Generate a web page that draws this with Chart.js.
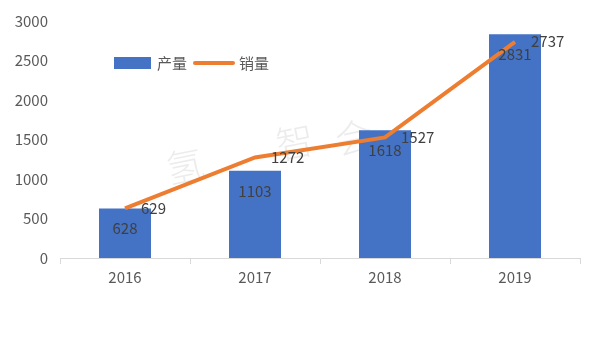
<!DOCTYPE html>
<html>
<head>
<meta charset="utf-8">
<script src="https://cdn.jsdelivr.net/npm/chart.js@4/dist/chart.umd.min.js"></script>
<style>
  html, body { margin: 0; padding: 0; background: #fff; }
  #wrap { width: 600px; height: 345px; }
</style>
</head>
<body>
<div id="wrap"><canvas id="salesChart"></canvas></div>
<script>
const years = ['2016', '2017', '2018', '2019'];
const production = [628, 1103, 1618, 2831];
const sales = [629, 1272, 1527, 2737];
const yTicks = [0, 500, 1000, 1500, 2000, 2500, 3000];

const FONT = '"Noto Sans CJK SC", "Microsoft YaHei", sans-serif';

// faint watermark behind the plot
const watermark = {
    id: 'watermark',
    beforeDatasetsDraw(chart) {
        const ctx = chart.ctx;
        ctx.save();
        ctx.fillStyle = 'rgba(170, 170, 170, 0.22)';
        ctx.font = '300 38px ' + FONT;
        ctx.textBaseline = 'middle';
        ctx.textAlign = 'center';
        const chars = [['氢', 185, 166], ['智', 295, 142], ['会', 354, 137]];
        chars.forEach(([c, x, y]) => {
            ctx.save();
            ctx.translate(x, y);
            ctx.rotate(-0.2);
            ctx.fillText(c, 0, 0);
            ctx.restore();
        });
        ctx.restore();
    }
};

// legend drawn inside the plot area
const innerLegend = {
    id: 'innerLegend',
    afterDraw(chart) {
        const ctx = chart.ctx;
        const ds = chart.data.datasets;
        const barDs = ds.find(d => d.type === 'bar');
        const lineDs = ds.find(d => d.type === 'line');
        ctx.save();
        ctx.font = '15px ' + FONT;
        ctx.textBaseline = 'middle';
        const y = 63;
        ctx.fillStyle = barDs.backgroundColor;
        ctx.fillRect(114, 57, 37, 12);
        ctx.fillStyle = '#595959';
        ctx.fillText(barDs.label, 157, y);
        ctx.strokeStyle = lineDs.borderColor;
        ctx.lineWidth = 4;
        ctx.lineCap = 'round';
        ctx.beginPath();
        ctx.moveTo(195, y);
        ctx.lineTo(233, y);
        ctx.stroke();
        ctx.fillText(lineDs.label, 239, y);
        ctx.restore();
    }
};

// value labels
const valueLabels = {
    id: 'valueLabels',
    afterDatasetsDraw(chart) {
        const ctx = chart.ctx;
        ctx.save();
        ctx.font = '15px ' + FONT;
        ctx.fillStyle = '#404040';
        ctx.textBaseline = 'middle';
        chart.data.datasets.forEach((ds, i) => {
            const meta = chart.getDatasetMeta(i);
            meta.data.forEach((el, j) => {
                if (ds.type === 'bar') {
                    ctx.textAlign = 'center';
                    ctx.fillText(ds.data[j], el.x, el.y + 20);
                } else {
                    ctx.textAlign = 'left';
                    ctx.fillText(ds.data[j], el.x + 16, el.y);
                }
            });
        });
        ctx.restore();
    }
};

const ctx = document.getElementById('salesChart').getContext('2d');
const chart = new Chart(ctx, {
    data: {
        labels: years,
        datasets: [{
            type: 'line',
            label: '销量',
            data: sales,
            borderColor: '#ED7D31',
            backgroundColor: '#ED7D31',
            borderWidth: 4,
            pointRadius: 0,
            tension: 0,
            order: 1
        }, {
            type: 'bar',
            label: '产量',
            data: production,
            backgroundColor: '#4472C4',
            borderColor: '#4472C4',
            categoryPercentage: 1,
            barPercentage: 0.4,
            order: 2
        }]
    },
    options: {
        responsive: true,
        maintainAspectRatio: false,
        animation: false,
        layout: { padding: { top: 12, right: 20, bottom: 55, left: 0 } },
        plugins: {
            legend: { display: false },
            tooltip: { enabled: false }
        },
        scales: {
            x: {
                offset: true,
                grid: {
                    offset: true,
                    drawOnChartArea: false,
                    drawTicks: true,
                    tickLength: 6,
                    color: '#d9d9d9'
                },
                border: { color: '#d9d9d9', width: 1 },
                ticks: { color: '#595959', font: { family: FONT, size: 15 }, padding: 4 }
            },
            y: {
                min: 0,
                max: 3000,
                afterBuildTicks(axis) { axis.ticks = yTicks.map(v => ({ value: v })); },
                afterFit(axis) { axis.width = 60; },
                grid: { display: false, drawTicks: false },
                border: { display: false },
                ticks: {
                    color: '#595959',
                    font: { family: FONT, size: 15 },
                    padding: 12,
                    callback: v => String(v)
                }
            }
        }
    },
    plugins: [watermark, valueLabels, innerLegend]
});
</script>
</body>
</html>
